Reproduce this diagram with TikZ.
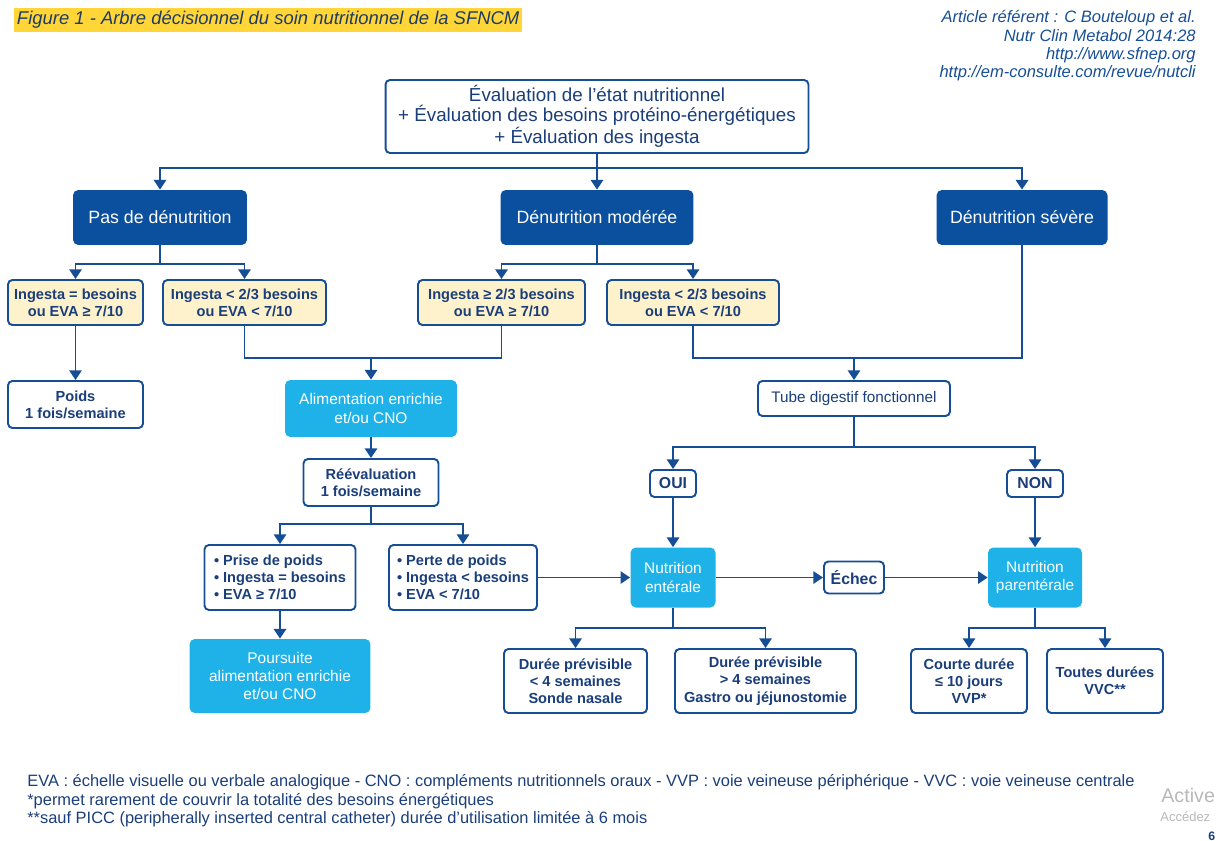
\documentclass[tikz,border=0pt]{standalone}
\usepackage{fontspec}
\setmainfont{Liberation Sans}
\usetikzlibrary{arrows.meta}

\definecolor{sfline}{RGB}{22,78,150}
\definecolor{sfnavy}{RGB}{26,62,122}
\definecolor{sfdark}{RGB}{10,80,158}
\definecolor{sfcyan}{RGB}{30,178,232}
\definecolor{sfyellow}{RGB}{253,242,204}
\definecolor{sfmark}{RGB}{255,213,55}
\definecolor{sftitle}{RGB}{30,60,100}

\tikzset{
  box/.style={draw=sfline, line width=1.1pt, rounded corners=2.5pt, fill=white,
    text=sfnavy, align=center, inner sep=0pt, font=\bfseries\fontsize{8.3}{9.8}\selectfont},
  condbox/.style={box, fill=sfyellow},
  darkbox/.style={fill=sfdark, rounded corners=3pt, text=white, inner sep=0pt,
    font=\fontsize{10.1}{12}\selectfont},
  cyanbox/.style={fill=sfcyan, rounded corners=3pt, text=white, align=center,
    inner sep=0pt, font=\fontsize{8.8}{10.4}\selectfont},
  line/.style={draw=sfline, line width=1.1pt},
  arr/.style={line, -{Triangle[length=5.5pt,width=7pt]}},
  refline/.style={anchor=base east, inner sep=0pt, text=sfline, font=\itshape\fontsize{9.4}{11}\selectfont},
  note/.style={anchor=base west, inner sep=0pt, text=sfnavy, font=\fontsize{9.35}{10}\selectfont},
}

\begin{document}
\begin{tikzpicture}[x=0.02cm,y=-0.02cm]
\useasboundingbox (0,0) rectangle (1216,841);

% Title and reference
\node[fill=sfmark, anchor=base west, inner xsep=1.5pt, inner ysep=2pt, text=sftitle,
  font=\itshape\fontsize{10.5}{12}\selectfont] (title) at (14,25)
  {Figure 1 - Arbre décisionnel du soin nutritionnel de la SFNCM};
\node[refline] (ref1) at (1196,23) {Article référent : C Bouteloup et al.};
\node[refline] (ref2) at (1196,42) {Nutr Clin Metabol 2014:28};
\node[refline] (ref3) at (1196,60) {http://www.sfnep.org};
\node[refline] (ref4) at (1196,78) {http://em-consulte.com/revue/nutcli};

% Evaluation
\node[box, font=\fontsize{10.7}{11.3}\selectfont, minimum width=8.46cm, minimum height=1.46cm] (eval) at (597,116.5)
  {Évaluation de l’état nutritionnel\\+ Évaluation des besoins protéino-énergétiques\\+ Évaluation des ingesta};

% Diagnosis
\node[darkbox, minimum width=3.48cm, minimum height=1.1cm] (pas) at (160,217.5) {Pas de dénutrition};
\node[darkbox, minimum width=3.86cm, minimum height=1.1cm] (mod) at (597,217.5) {Dénutrition modérée};
\node[darkbox, minimum width=3.42cm, minimum height=1.1cm] (sev) at (1022,217.5) {Dénutrition sévère};

% Ingesta
\node[condbox, minimum width=2.7cm, minimum height=0.9cm] (ing1) at (75.5,302.5) {Ingesta = besoins\\ou EVA ≥ 7/10};
\node[condbox, minimum width=3.26cm, minimum height=0.9cm] (ing2) at (244.5,302.5) {Ingesta < 2/3 besoins\\ou EVA < 7/10};
\node[condbox, minimum width=3.34cm, minimum height=0.9cm] (ing3) at (501.5,302.5) {Ingesta ≥ 2/3 besoins\\ou EVA ≥ 7/10};
\node[condbox, minimum width=3.44cm, minimum height=0.9cm] (ing4) at (693,302.5) {Ingesta < 2/3 besoins\\ou EVA < 7/10};

% Left branch
\node[box, minimum width=2.7cm, minimum height=0.94cm] (poids) at (75.5,404.5) {Poids\\1 fois/semaine};
\node[cyanbox, minimum width=3.44cm, minimum height=1.14cm] (alim) at (371,408.5) {Alimentation enrichie\\et/ou CNO};
\node[box, minimum width=2.7cm, minimum height=0.94cm] (reev) at (371,482.5) {Réévaluation\\1 fois/semaine};
\node[box, align=left, minimum width=3.02cm, minimum height=1.3cm] (prise) at (280,577.5)
  {• Prise de poids\\• Ingesta = besoins\\• EVA ≥ 7/10};
\node[box, align=left, minimum width=2.96cm, minimum height=1.3cm] (perte) at (463,577.5)
  {• Perte de poids\\• Ingesta < besoins\\• EVA < 7/10};
\node[cyanbox, minimum width=3.62cm, minimum height=1.48cm] (pours) at (280,676)
  {Poursuite\\alimentation enrichie\\et/ou CNO};

% Right branch
\node[box, font=\fontsize{8.7}{10}\selectfont, minimum width=3.84cm, minimum height=0.7cm] (tube) at (854,398.5) {Tube digestif fonctionnel};
\node[box, font=\bfseries\fontsize{9}{10}\selectfont, minimum width=0.92cm, minimum height=0.54cm] (oui) at (673,483.5) {OUI};
\node[box, font=\bfseries\fontsize{9}{10}\selectfont, minimum width=1.12cm, minimum height=0.54cm] (non) at (1035,483.5) {NON};
\node[cyanbox, minimum width=1.7cm, minimum height=1.2cm] (ent) at (673,577.5) {Nutrition\\entérale};
\node[box, font=\bfseries\fontsize{9}{10}\selectfont, minimum width=1.2cm, minimum height=0.64cm] (echec) at (854,577.5) {Échec};
\node[cyanbox, minimum width=1.88cm, minimum height=1.2cm] (par) at (1035,577.5) {Nutrition\\parentérale};

% Durations
\node[box, minimum width=2.86cm, minimum height=1.28cm] (sonde) at (575.5,681) {Durée prévisible\\< 4 semaines\\Sonde nasale};
\node[box, minimum width=3.62cm, minimum height=1.28cm] (gastro) at (765.5,681) {Durée prévisible\\> 4 semaines\\Gastro ou jéjunostomie};
\node[box, minimum width=2.32cm, minimum height=1.28cm] (vvp) at (969,681) {Courte durée\\≤ 10 jours\\VVP*};
\node[box, minimum width=2.32cm, minimum height=1.28cm] (vvc) at (1105,681) {Toutes durées\\VVC**};

% Junctions
\coordinate (j0) at (597,168);
\coordinate (jpas) at (160,264);
\coordinate (jmod) at (597,264);
\coordinate (jalim) at (371,358);
\coordinate (jtube) at (854,358);
\coordinate (jreev) at (371,524);
\coordinate (jyn) at (854,447);
\coordinate (jent) at (673,628);
\coordinate (jpar) at (1035,628);

% Connectors
\draw[line] (eval) -- (j0);
\draw[arr] (j0) -| (pas);
\draw[arr] (j0) -- (mod);
\draw[arr] (j0) -| (sev);
\draw[line] (pas) -- (jpas);
\draw[arr] (jpas) -| (ing1);
\draw[arr] (jpas) -| (ing2);
\draw[line] (mod) -- (jmod);
\draw[arr] (jmod) -| (ing3);
\draw[arr] (jmod) -| (ing4);
\draw[arr] (ing1) -- (poids);
\draw[line] (ing2) |- (jalim) -| (ing3);
\draw[arr] (jalim) -- (alim);
\draw[line] (ing4) |- (jtube) -| (sev);
\draw[arr] (jtube) -- (tube);
\draw[arr] (alim) -- (reev);
\draw[line] (reev) -- (jreev);
\draw[arr] (jreev) -| (prise);
\draw[arr] (jreev) -| (perte);
\draw[arr] (prise) -- (pours);
\draw[arr] (perte) -- (ent);
\draw[line] (tube) -- (jyn);
\draw[arr] (jyn) -| (oui);
\draw[arr] (jyn) -| (non);
\draw[arr] (oui) -- (ent);
\draw[arr] (non) -- (par);
\draw[arr] (ent) -- (echec);
\draw[arr] (echec) -- (par);
\draw[line] (ent) -- (jent);
\draw[arr] (jent) -| (sonde);
\draw[arr] (jent) -| (gastro);
\draw[line] (par) -- (jpar);
\draw[arr] (jpar) -| (vvp);
\draw[arr] (jpar) -| (vvc);

% Footnotes
\node[note] (n1) at (27,786) {EVA : échelle visuelle ou verbale analogique - CNO : compléments nutritionnels oraux - VVP : voie veineuse périphérique - VVC : voie veineuse centrale};
\node[note] (n2) at (27,805) {*permet rarement de couvrir la totalité des besoins énergétiques};
\node[note] (n3) at (27,823) {**sauf PICC (peripherally inserted central catheter) durée d’utilisation limitée à 6 mois};

% Overlay
\node[anchor=base west, inner sep=0pt, text=black!28, font=\fontsize{11.2}{12}\selectfont] (wm1) at (1161,802) {Active};
\node[anchor=base west, inner sep=0pt, text=black!28, font=\fontsize{7.4}{9}\selectfont] (wm2) at (1160,821) {Accédez};
\node[anchor=base west, inner sep=0pt, text=sfnavy, font=\bfseries\fontsize{7}{8}\selectfont] (pg) at (1208,840) {6};
\end{tikzpicture}
\end{document}
